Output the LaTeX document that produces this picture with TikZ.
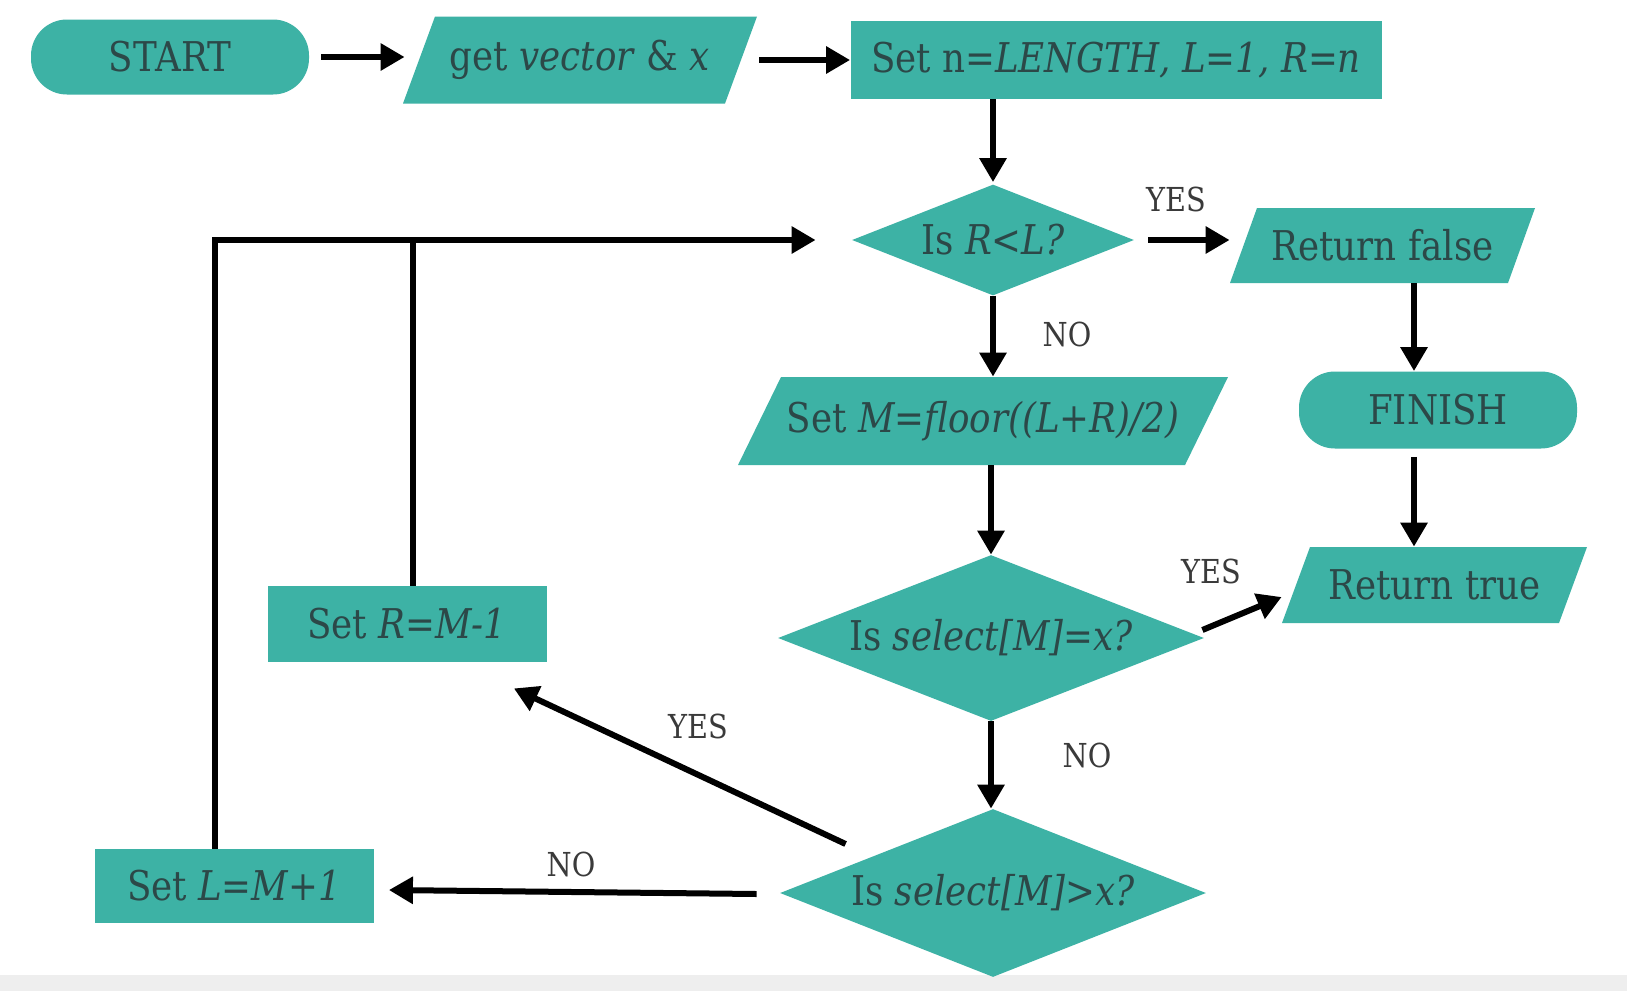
\documentclass[tikz,border=0pt]{standalone}
\usepackage{fontspec}
\setmainfont{DejaVu Serif}[FakeStretch=0.87]
\usetikzlibrary{shapes.geometric,arrows.meta,calc}
\definecolor{teal1}{HTML}{3DB2A5}
\definecolor{txt}{HTML}{2C4848}
\definecolor{lbl}{HTML}{3A3A3A}
\definecolor{band}{HTML}{EEEEEE}
\begin{document}
\begin{tikzpicture}[x=0.5pt,y=-0.5pt,
  box/.style={fill=teal1, draw=none, text=txt, font=\fontsize{20.5}{24}\selectfont, inner sep=0pt},
  term/.style={box, rounded corners=18pt},
  para/.style={box, fill=none, path picture={\fill[teal1]
      ([shift={(#1,0)}]path picture bounding box.north west) --
      (path picture bounding box.north east) --
      ([shift={(-#1,0)}]path picture bounding box.south east) --
      (path picture bounding box.south west) -- cycle;}},
  dec/.style={box, diamond, aspect=2.55},
  lbl/.style={text=lbl, font=\fontsize{16.5}{19}\selectfont, inner sep=0pt},
  arr/.style={line width=3pt, -{Triangle[length=12pt,width=13pt]}},
  ln/.style={line width=3.2pt}
]
\useasboundingbox (0,0) rectangle (1627,991);
\fill[white] (0,0) rectangle (1627,991);
\fill[band] (0,975) rectangle (1627,991);

\node[term, minimum width=139pt, minimum height=37.5pt] (start) at (170,57) {START};
\node[para=32, minimum width=177pt, minimum height=43.5pt] (get) at (580,60) {get \textit{vector} \& \textit{x}};
\node[box, minimum width=265.5pt, minimum height=39pt] (setn) at (1116,60) {Set n=\textit{LENGTH, L=1, R=n}};
\node[dec, minimum width=141pt, minimum height=55.5pt] (isRL) at (993,240) {Is \textit{R<L?}};
\node[para=27, minimum width=152.5pt, minimum height=37.5pt] (retF) at (1382.5,245.5) {Return false};
\node[term, minimum width=139pt, minimum height=38.5pt] (finish) at (1438,410) {FINISH};
\node[para=28, minimum width=152.5pt, minimum height=38pt] (retT) at (1434.5,585) {Return true};
\node[para=43, minimum width=245pt, minimum height=44pt] (setM) at (983,421) {Set \textit{M=floor((L+R)/2)}};
\node[dec, minimum width=213pt, minimum height=83pt] (isEq) at (991,638) {Is \textit{select[M]=x?}};
\node[dec, minimum width=213pt, minimum height=84pt] (isGt) at (993,893) {Is \textit{select[M]>x?}};
\node[box, minimum width=139.5pt, minimum height=38pt] (setR) at (407,624) {Set \textit{R=M-1}};
\node[box, minimum width=139.5pt, minimum height=37pt] (setL) at (234,886) {Set \textit{L=M+1}};

\node[lbl] (y1) at (1176,199) {YES};
\node[lbl] (n1) at (1067,334) {NO};
\node[lbl] (y2) at (1211,571) {YES};
\node[lbl] (n2) at (1087,755) {NO};
\node[lbl] (y3) at (698,726) {YES};
\node[lbl] (n3) at (571,864) {NO};

\coordinate (colx) at (1414,0);
\coordinate (lx) at (215,0);
\coordinate (rx) at (413,0);

\draw[arr] ([xshift=6pt]start.east) -- ([xshift=1pt]start.east -| get.west);
\draw[arr] ([xshift=1pt]get.east) -- (get.east -| setn.west);
\draw[arr] (setn.south -| isRL.north) -- ([yshift=1pt]isRL.north);
\draw[arr] ([xshift=7pt]isRL.east) -- (isRL.east -| retF.west);
\draw[arr] (retF.south -| colx) -- (finish.north -| colx);
\draw[arr] ([yshift=-4pt]finish.south -| colx) -- (retT.north -| colx);
\draw[arr] (isRL.south) -- (isRL.south |- setM.north);
\draw[arr] (setM.south -| isEq.north) -- (isEq.north);
\draw[arr] ([shift={(-2,-8)}]isEq.east) -- ([shift={(0,12)}]retT.west);
\draw[arr] (isEq.south) -- (isEq.south |- isGt.north);
\draw[arr] ([shift={(66,-49)}]isGt.west) -- ([shift={(-33,26)}]setR.south east);
\draw[arr] ([shift={(-23,1)}]isGt.west) -- ([shift={(15,4)}]setL.east);
\draw[ln] (setR.north -| rx) -- (rx |- isRL.west);
\draw[arr, line join=miter] (setL.north -| lx) -- (lx |- isRL.west) -- ([xshift=-18pt]isRL.west);
\end{tikzpicture}
\end{document}
